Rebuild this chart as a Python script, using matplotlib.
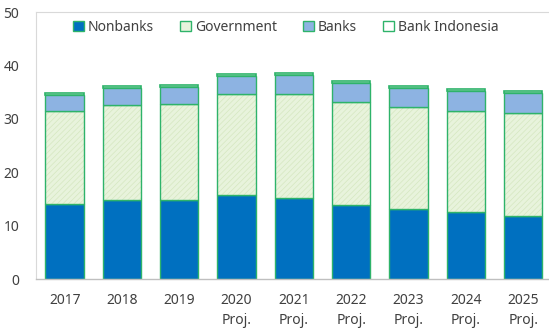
import matplotlib
matplotlib.use("Agg")
import matplotlib.pyplot as plt
from matplotlib.patches import Patch

# data
years = ['2017', '2018', '2019', '2020\nProj.', '2021\nProj.', '2022\nProj.',
         '2023\nProj.', '2024\nProj.', '2025\nProj.']
nonbanks = [14.0, 14.8, 14.8, 15.7, 15.1, 13.9, 13.1, 12.5, 11.8]
government = [17.5, 17.8, 18.0, 18.9, 19.6, 19.3, 19.1, 19.0, 19.2]
banks = [2.9, 3.2, 3.1, 3.5, 3.5, 3.5, 3.6, 3.8, 3.8]
bank_indonesia = [0.5, 0.4, 0.4, 0.3, 0.4, 0.4, 0.3, 0.3, 0.4]

edge = '#2eb36a'
c_nonbanks = '#0070c0'
c_gov = '#e8f3dc'
c_hatch = '#d5e7c0'
c_banks = '#8db3e2'

plt.rcParams['font.family'] = ['Noto Sans', 'DejaVu Sans']
plt.rcParams['hatch.linewidth'] = 0.5

fig = plt.figure(figsize=(5.49, 3.32), dpi=100)
ax = fig.add_axes([36 / 549, 0.1596, 1 - 36 / 549, 0.8042])

x = list(range(len(years)))
w = 0.67
bottom2 = [a + b for a, b in zip(nonbanks, government)]
bottom3 = [a + b for a, b in zip(bottom2, banks)]

ax.bar(x, nonbanks, w, color=c_nonbanks, edgecolor=edge, linewidth=1.0)
# hatch layer then outline layer for government
ax.bar(x, government, w, bottom=nonbanks, color=c_gov, edgecolor=c_hatch,
       linewidth=0, hatch='//////')
ax.bar(x, government, w, bottom=nonbanks, fill=False, edgecolor=edge, linewidth=1.0)
ax.bar(x, banks, w, bottom=bottom2, color=c_banks, edgecolor=edge, linewidth=1.0)
ax.bar(x, bank_indonesia, w, bottom=bottom3, color='white', edgecolor=edge, linewidth=1.2)

ax.set_xlim(-0.5, 8.45)
ax.set_ylim(0, 50)
ax.set_yticks([0, 10, 20, 30, 40, 50])
ax.set_xticks(x)
ax.set_xticklabels(years, fontsize=10, color='#404040', linespacing=1.5)
ax.tick_params(axis='both', length=0, labelsize=10, labelcolor='#404040')
ax.tick_params(axis='x', pad=10)
ax.tick_params(axis='y', pad=12)

for s in ['left', 'top']:
    ax.spines[s].set_color('#d9d9d9')
    ax.spines[s].set_linewidth(0.8)
ax.spines['right'].set_visible(False)
ax.spines['bottom'].set_color('#bfbfbf')
ax.spines['bottom'].set_linewidth(1.0)

handles = [
    Patch(facecolor=c_nonbanks, edgecolor=edge, label='Nonbanks'),
    Patch(facecolor=c_gov, edgecolor=edge, label='Government'),
    Patch(facecolor=c_banks, edgecolor=edge, label='Banks'),
    Patch(facecolor='white', edgecolor=edge, label='Bank Indonesia'),
]
leg = ax.legend(handles=handles, loc='upper center', ncol=4, frameon=False,
                bbox_to_anchor=(0.487, 1.017), fontsize=10, handlelength=0.75,
                handleheight=0.75, handletextpad=0.3, columnspacing=1.9)
for t in leg.get_texts():
    t.set_color('#404040')

fig.savefig('out.png', dpi=100)
